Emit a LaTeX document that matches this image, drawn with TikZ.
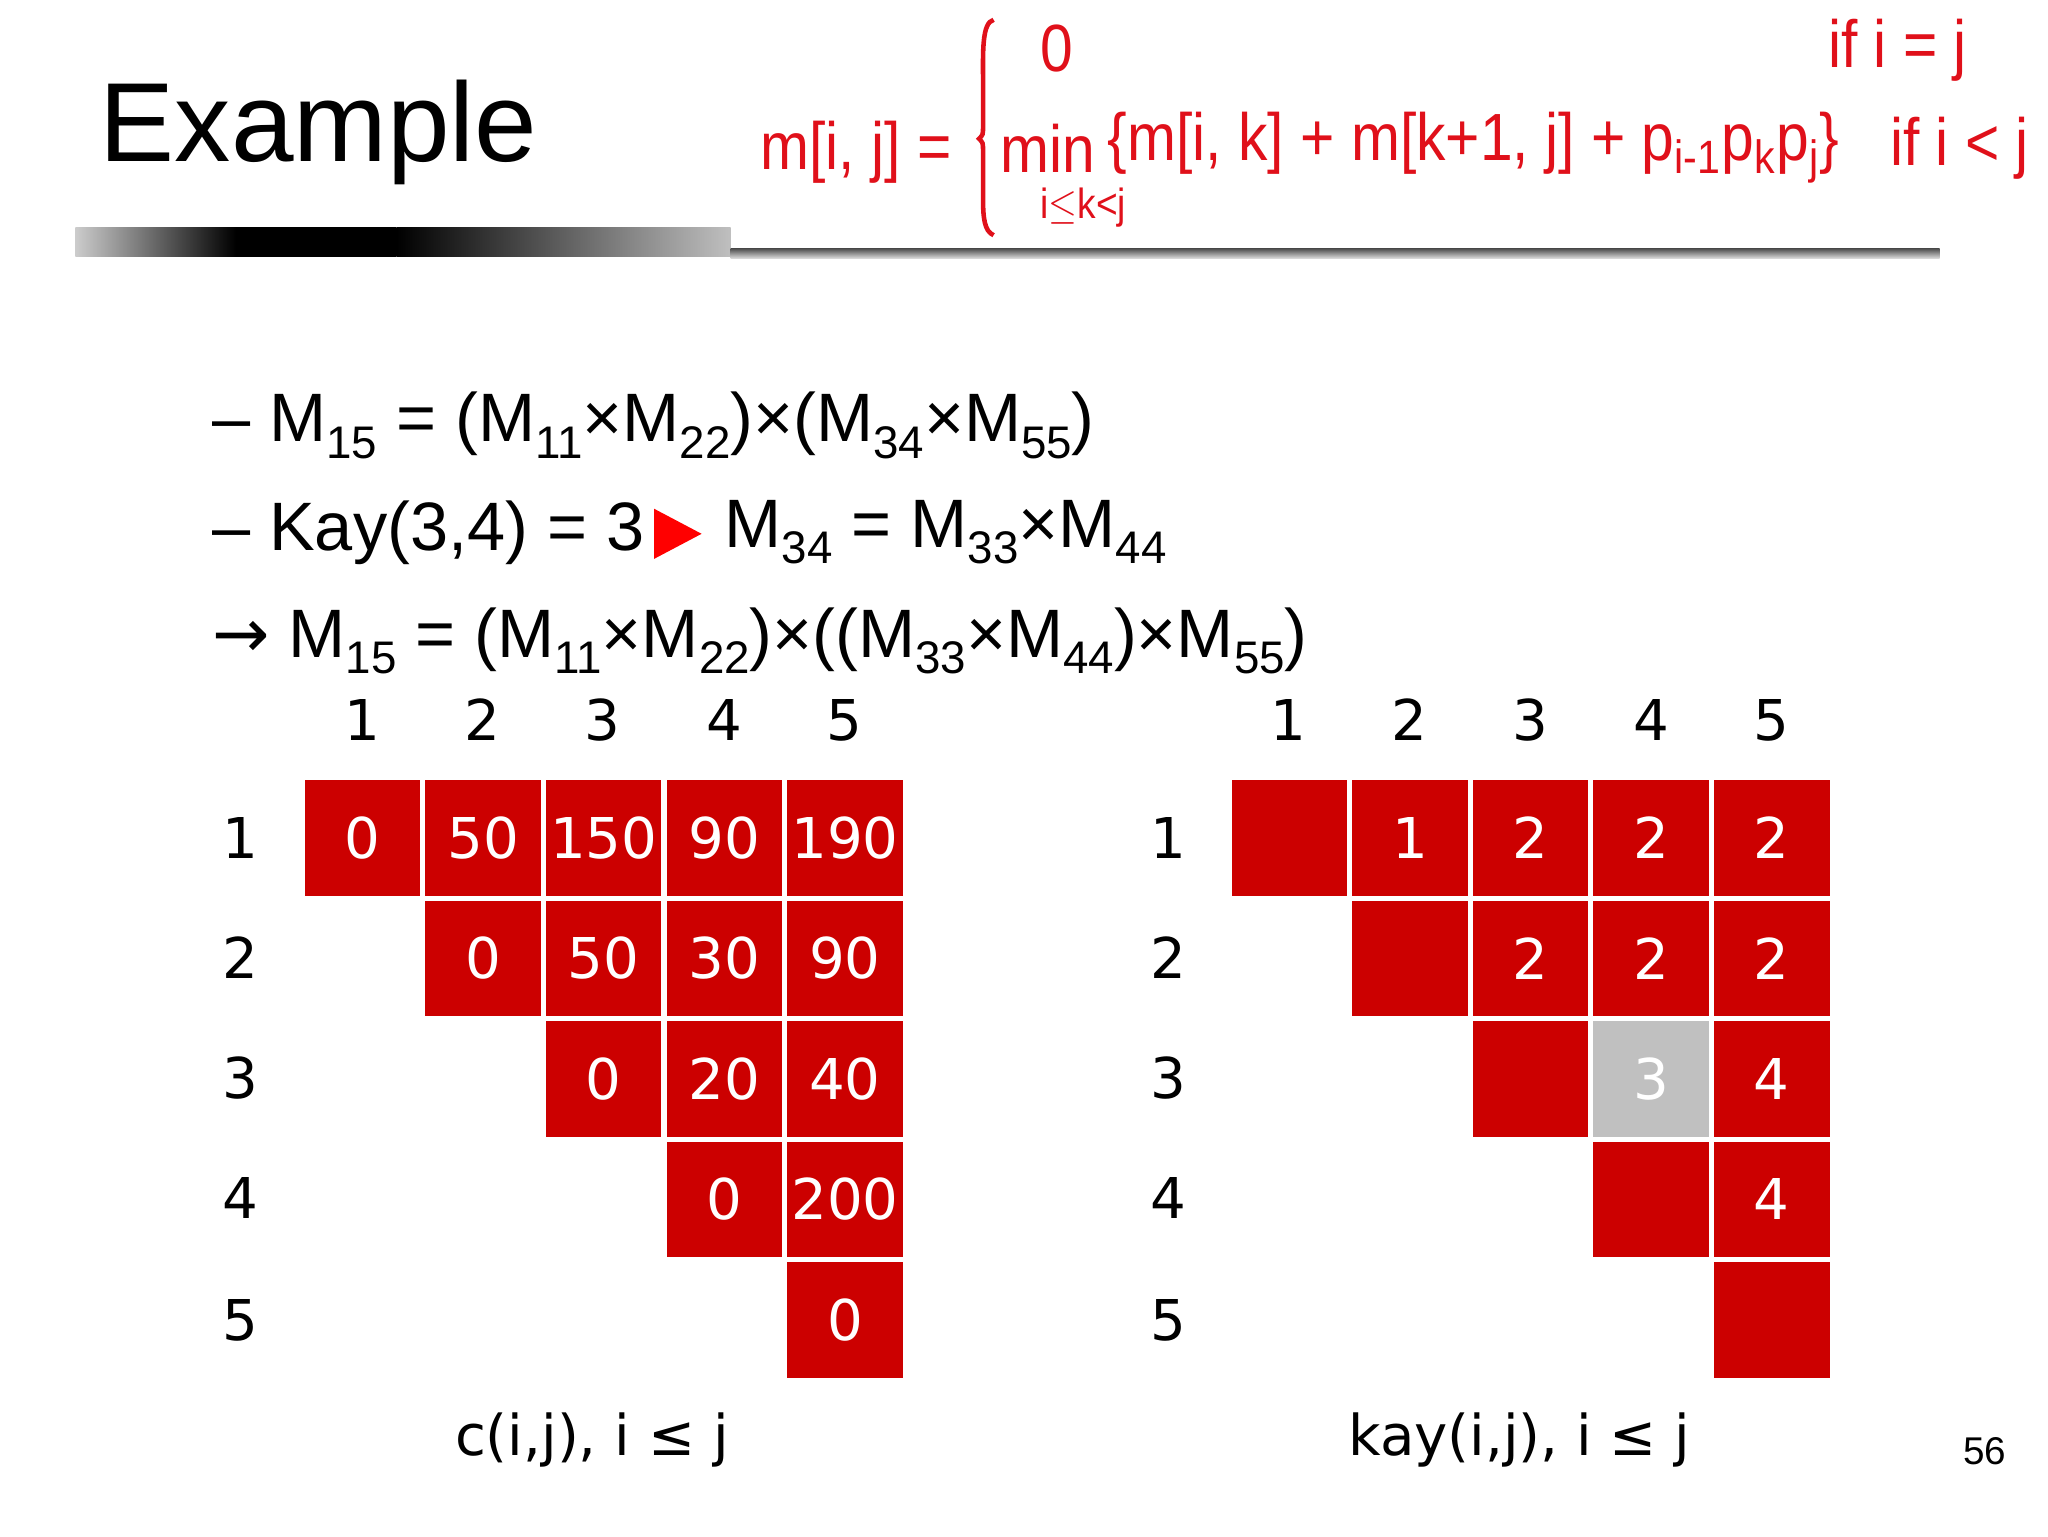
\documentclass[tikz,border=0pt]{standalone}
\usepackage{fontspec}
\setmainfont{Liberation Sans}
\newfontfamily\dv{DejaVu Sans}
\usepackage{amsmath,amssymb}
\definecolor{cred}{HTML}{CC0000}
\definecolor{fred}{HTML}{E0101A}
\definecolor{cgray}{HTML}{C0C0C0}
\newcommand{\lo}[1]{\raisebox{-0.45ex}{\fontsize{13}{14}\selectfont #1}}
\begin{document}
\begin{tikzpicture}[x=0.013213cm,y=-0.013213cm,
  cellbox/.style={fill=cred,draw=white,line width=1pt,minimum size=1.19cm,inner sep=0pt,text=white,font=\dv\fontsize{16}{19}\selectfont},
  lbl/.style={font=\dv\fontsize{16}{19}\selectfont,inner sep=0pt},
  body/.style={font=\fontsize{19.5}{24}\selectfont,anchor=west,inner sep=0pt},
  fr/.style={text=fred,font=\fontsize{19}{22}\selectfont,inner sep=0pt}]
\useasboundingbox (0,0) rectangle (1550,1163);
\node[anchor=west,inner sep=0pt,font=\fontsize{32}{36}\selectfont] (title) at (75,100) {Example};
\shade[left color=black!20,right color=black,middle color=black] (57,172) rectangle (300,194);
\shade[left color=black,right color=black!25] (300,172) rectangle (553,194);
\shade[top color=black!70,bottom color=black!10] (553,188) rectangle (1468,196);
% formula
\node[fr,anchor=west] (lhs) at (575,115) {\scalebox{0.88}[1]{m[i, j] =}};
\coordinate (bt) at (752,15);
\coordinate (bb) at (752,178);
\coordinate (bm) at (741,105);
\draw[fred,line width=1.3pt] (bt) .. controls (743,17) and (744,40) .. (744,60) -- (744,95) .. controls (744,102) .. (bm) .. controls (744,108) .. (744,115) -- (744,150) .. controls (744,165) and (745,175) .. (bb);
\node[fr] (zero) at (800,37) {\scalebox{0.88}[1]{0}};
\node[fr,anchor=west] (c1) at (1383,38) {\scalebox{0.88}[1]{if i = j}};
\node[fr,anchor=west] (mn) at (757,112) {\scalebox{0.88}[1]{min}};
\node[fr,anchor=west,font=\fontsize{12}{14}\selectfont] (sub) at (787,157) {\scalebox{0.88}[1]{i$\leq$k<j}};
\node[fr,anchor=west] (sum) at (838,112) {\scalebox{0.88}[1]{\{m[i, k] + m[k+1, j] + p\textsubscript{i-1}p\textsubscript{k}p\textsubscript{j}\}}};
\node[fr,anchor=west] (c2) at (1430,112) {\scalebox{0.88}[1]{if i < j}};
% bullets
\node[body] (b1) at (160,322) {–\ M\lo{15} = (M\lo{11}×M\lo{22})×(M\lo{34}×M\lo{55})};
\node[body] (b2a) at (160,403) {–\ Kay(3,4) = 3};
\fill[fill=red] (495,385) -- (531,404) -- (495,423) -- cycle;
\node[body] (b2b) at (548,403) {M\lo{34} = M\lo{33}×M\lo{44}};
\node[body] (b3) at (160,485) {{\dv →} M\lo{15} = (M\lo{11}×M\lo{22})×((M\lo{33}×M\lo{44})×M\lo{55})};
% grids
\foreach \c/\x in {1/274,2/365,3/456,4/548,5/639} {\node[lbl] (lh\c) at (\x,545) {\c};}
\foreach \c/\x in {1/975,2/1067,3/1158,4/1250,5/1341} {\node[lbl] (rh\c) at (\x,545) {\c};}
\foreach \r/\y in {1/634,2/725,3/816,4/907,5/999} {\node[lbl] (lr\r) at (182,\y) {\r}; \node[lbl] (rr\r) at (884,\y) {\r};}
\foreach \r/\c/\v in {1/1/0,1/2/50,1/3/150,1/4/90,1/5/190,2/2/0,2/3/50,2/4/30,2/5/90,3/3/0,3/4/20,3/5/40,4/4/0,4/5/200,5/5/0}{
  \node[cellbox] (L\r\c) at ({183+91.3*\c},{543+91.2*\r}) {\v};}
\foreach \r/\c/\v in {1/1/,1/2/1,1/3/2,1/4/2,1/5/2,2/2/,2/3/2,2/4/2,2/5/2,3/3/,3/5/4,4/4/,4/5/4,5/5/}{
  \node[cellbox] (R\r\c) at ({884.5+91.3*\c},{543+91.2*\r}) {\v};}
\node[cellbox,fill=cgray] (R34) at ({884.5+91.3*4},{543+91.2*3}) {3};
\node[lbl] (capL) at (448,1090) {c(i,j), i ≤ j};
\node[lbl] (capR) at (1150,1090) {kay(i,j), i ≤ j};
\node[inner sep=0pt,font=\fontsize{11}{13}\selectfont] (pg) at (1502,1098) {56};
\end{tikzpicture}
\end{document}
